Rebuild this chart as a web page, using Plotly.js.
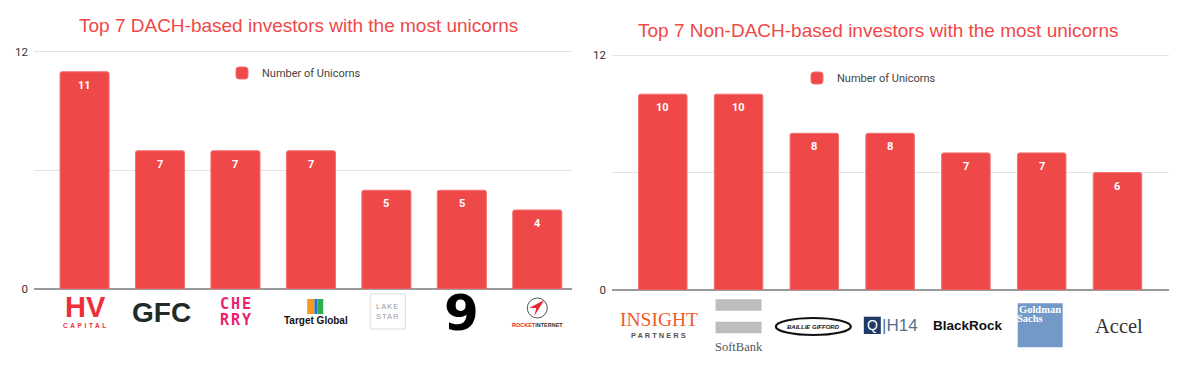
<!DOCTYPE html>
<html>
<head>
<meta charset="utf-8">
<script src="https://cdn.plot.ly/plotly-3.0.1.min.js"></script>
<style>html,body{margin:0;padding:0;background:#fff;}#chart{width:1199px;height:375px;}</style>
</head>
<body>
<div id="chart"></div>
<script>
// ---------- DATA ----------
const dachInvestors = ['HV Capital', 'GFC', 'Cherry Ventures', 'Target Global', 'Lakestar', 'Project A', 'Rocket Internet'];
const dachUnicorns = [11, 7, 7, 7, 5, 5, 4];
const nonDachInvestors = ['Insight Partners', 'SoftBank', 'Baillie Gifford', 'H14', 'BlackRock', 'Goldman Sachs', 'Accel'];
const nonDachUnicorns = [10, 10, 8, 8, 7, 7, 6];
const seriesName = 'Number of Unicorns';
const chartTitles = ['Top 7 DACH-based investors with the most unicorns', 'Top 7 Non-DACH-based investors with the most unicorns'];
const yTickVals = [0, 6, 12];
const yTickText = ['0', '', '12'];

// ---------- STYLE ----------
const W = 1199, H = 375;
const RED = '#ef4848';
const YMAX = 12.1; // a little headroom so the top grid line at 12 is drawn
const leftX = [34 / W, 572 / W], rightX = [612 / W, 1169 / W];
const leftY = [86 / H, (86 + 237 * YMAX / 12) / H], rightY = [85 / H, (85 + 235 * YMAX / 12) / H];
const SANS = 'Liberation Sans, Arial, sans-serif';
const SERIF = 'Liberation Serif, Times New Roman, serif';

// logo marks (text pieces) drawn under each category, offsets in px from axis
const dachLogoText = [
  [{t: 'HV', s: 29, c: '#ee2e3a', f: SANS, b: true, dy: -17.5, dx: 0.5},
   {t: '<span style="letter-spacing:2.6px">CAPITAL</span>', s: 6.5, c: '#ee2e3a', f: SANS, b: true, dy: -36, dx: 1}],
  [{t: 'GFC', s: 28, c: '#1f2b27', f: SANS, b: true, dy: -23.5, dx: 1.6}],
  [{t: '<span style="letter-spacing:2px">CHE</span>', s: 15, c: '#e8236e', f: 'DejaVu Sans Mono', b: true, dy: -15, dx: 1},
   {t: '<span style="letter-spacing:2px">RRY</span>', s: 15, c: '#e8236e', f: 'DejaVu Sans Mono', b: true, dy: -31, dx: 1}],
  [{t: 'Target Global', s: 10, c: '#111', f: SANS, b: true, dy: -31.7, dx: 5.3}],
  [{t: '<span style="letter-spacing:1px">LAKE</span>', s: 7.5, c: '#9a9a9a', f: SANS, b: false, dy: -17.7, dx: 1.6},
   {t: '<span style="letter-spacing:1px">STAR</span>', s: 7.5, c: '#9a9a9a', f: SANS, b: false, dy: -27.7, dx: 1.6}],
  [{t: '9', s: 50, c: '#000', f: 'DejaVu Sans', b: true, dy: -24, dx: -0.5}],
  [{t: '<span style="color:#e8262c">ROCKET</span><span style="color:#333">INTERNET</span>', s: 5.5, c: '#333', f: SANS, b: true, dy: -36, dx: 0}]
];
const nonDachLogoText = [
  [{t: 'INSIGHT', s: 19.5, c: '#f15a2b', f: SERIF, b: false, dy: -29.7, dx: -3.5},
   {t: '<span style="letter-spacing:2px">PARTNERS</span>', s: 7.5, c: '#555', f: SANS, b: true, dy: -45, dx: -3.5}],
  [{t: 'SoftBank', s: 12.5, c: '#555', f: SERIF, b: false, dy: -56.7, dx: 0}],
  [{t: '<i>BAILLIE GIFFORD</i>', s: 6, c: '#111', f: SANS, b: true, dy: -36.5, dx: -1}],
  [{t: 'Q', s: 14, c: '#fff', f: SANS, b: false, dy: -35.3, dx: -17.7},
   {t: '|H14', s: 17, c: '#55708f', f: SANS, b: false, dy: -35.3, dx: 9.5}],
  [{t: 'BlackRock', s: 13.5, c: '#111', f: SANS, b: true, dy: -35, dx: 2}],
  [{t: 'Goldman', s: 10.5, c: '#fff', f: SERIF, b: true, dy: -19.5, dx: -1.5},
   {t: 'Sachs', s: 10.5, c: '#fff', f: SERIF, b: true, dy: -28.5, dx: -11.5}],
  [{t: 'Accel', s: 20.5, c: '#333', f: SERIF, b: false, dy: -36, dx: 1.5}]
];
// logo shapes: [categoryIndex, type, x0, x1, y0, y1, fill, line, lineWidth, path]
const dachLogoShapes = [
  [3, 'rect', -3.7, 3.5, -10, -25, '#f59a1c', null, 0],
  [3, 'rect', 3.5, 6.5, -10, -25, '#2a6fd6', null, 0],
  [3, 'rect', 6.5, 12.3, -10, -25, '#2fae4e', null, 0],
  [4, 'rect', -16.1, 18.9, -5, -40, 'rgba(0,0,0,0)', '#dcdcdc', 1],
  [6, 'circle', -10, 10, -9, -29, 'rgba(0,0,0,0)', '#555', 1],
  [6, 'path', 0, 0, 0, 0, '#e8262c', null, 0, 'M 7 -11 L -8 -19 L -1 -19 L -3 -27 Z']
];
const nonDachLogoShapes = [
  [1, 'rect', -23, 23, -9.3, -20.7, '#bdbdbd', null, 0],
  [1, 'rect', -23, 23, -31.7, -43.3, '#bdbdbd', null, 0],
  [2, 'circle', -38.5, 36.5, -28, -45, 'rgba(0,0,0,0)', '#111', 2.2],
  [3, 'rect', -26.3, -9.3, -26.7, -44, '#1f3a68', null, 0],
  [5, 'rect', -24, 21, -13.3, -57.3, '#7399c6', null, 0]
];

// ---------- BUILD ----------
const traces = [
  {type: 'bar', x: dachInvestors, y: dachUnicorns, name: seriesName, xaxis: 'x', yaxis: 'y',
   width: 0.65, marker: {color: RED, line: {color: '#f27070', width: 1}, cornerradius: 2},
   hoverinfo: 'x+y', legend: 'legend'},
  {type: 'bar', x: nonDachInvestors, y: nonDachUnicorns, name: seriesName, xaxis: 'x2', yaxis: 'y2',
   width: 0.64, marker: {color: RED, line: {color: '#f27070', width: 1}, cornerradius: 2},
   hoverinfo: 'x+y', legend: 'legend2'}
];

const annotations = [];
const shapes = [];

function valueLabels(cats, vals, xref, yref) {
  cats.forEach((c, i) => annotations.push({
    xref: xref, yref: yref, x: c, y: vals[i], yanchor: 'top', yshift: -5, showarrow: false,
    text: '<b>' + vals[i] + '</b>', font: {family: 'Roboto, ' + SANS, size: 11, color: '#fff'}
  }));
}
valueLabels(dachInvestors, dachUnicorns, 'x', 'y');
valueLabels(nonDachInvestors, nonDachUnicorns, 'x2', 'y2');

function logoTexts(spec, xref, axisY) {
  spec.forEach((parts, i) => parts.forEach(p => annotations.push({
    xref: xref, yref: 'paper', x: i, y: axisY, xanchor: 'center', yanchor: 'middle',
    xshift: p.dx, yshift: p.dy, showarrow: false, borderpad: 0,
    text: p.b ? '<b>' + p.t + '</b>' : p.t,
    font: {family: p.f, size: p.s, color: p.c}
  })));
}
function logoShapes(spec, xref, axisY) {
  spec.forEach(s => {
    const sh = {
      type: s[1], xref: xref, yref: 'paper', xsizemode: 'pixel', ysizemode: 'pixel',
      xanchor: s[0], yanchor: axisY, fillcolor: s[6], layer: 'above',
      line: {color: s[7] || 'rgba(0,0,0,0)', width: s[8]}
    };
    if (s[1] === 'path') sh.path = s[9];
    else { sh.x0 = s[2]; sh.x1 = s[3]; sh.y0 = s[4]; sh.y1 = s[5]; }
    shapes.push(sh);
  });
}
logoShapes(dachLogoShapes, 'x', leftY[0]);
logoShapes(nonDachLogoShapes, 'x2', rightY[0]);
logoTexts(dachLogoText, 'x', leftY[0]);
logoTexts(nonDachLogoText, 'x2', rightY[0]);

// titles
annotations.push({xref: 'paper', yref: 'paper', x: 298.5 / W, y: 1 - 25.5 / H, xanchor: 'center', yanchor: 'middle',
  showarrow: false, text: chartTitles[0], font: {family: SANS, size: 19, color: '#f04848'}});
annotations.push({xref: 'paper', yref: 'paper', x: 877.5 / W, y: 1 - 30.5 / H, xanchor: 'center', yanchor: 'middle',
  showarrow: false, text: chartTitles[1], font: {family: SANS, size: 19, color: '#f04848'}});

const yaxisBase = {
  range: [0, YMAX], tickvals: yTickVals, ticktext: yTickText, showgrid: true, gridcolor: '#e3e3e3', gridwidth: 1,
  zeroline: true, zerolinecolor: '#9a9a9a', zerolinewidth: 2, showline: false, ticks: '',
  tickfont: {family: 'Roboto, ' + SANS, size: 11.5, color: '#333'}, ticklabelstandoff: 5, fixedrange: true
};
const xaxisBase = {type: 'category', showticklabels: false, ticks: '', showline: false, showgrid: false, zeroline: false, fixedrange: true};

const layout = {
  width: W, height: H, autosize: false,
  margin: {l: 0, r: 0, t: 0, b: 0, pad: 0},
  paper_bgcolor: '#fff', plot_bgcolor: 'rgba(0,0,0,0)',
  showlegend: true, bargap: 0.35,
  xaxis: Object.assign({}, xaxisBase, {domain: leftX, range: [-0.67, 6.46], anchor: 'y'}),
  yaxis: Object.assign({}, yaxisBase, {domain: leftY, anchor: 'x'}),
  xaxis2: Object.assign({}, xaxisBase, {domain: rightX, range: [-0.67, 6.68], anchor: 'y2'}),
  yaxis2: Object.assign({}, yaxisBase, {domain: rightY, anchor: 'x2'}),
  legend: {x: 222 / W, xanchor: 'left', y: 1 - 73 / H, yanchor: 'middle', bgcolor: 'rgba(0,0,0,0)',
    font: {family: 'Roboto, ' + SANS, size: 11, color: '#444'}},
  legend2: {x: 797 / W, xanchor: 'left', y: 1 - 78 / H, yanchor: 'middle', bgcolor: 'rgba(0,0,0,0)',
    font: {family: 'Roboto, ' + SANS, size: 11, color: '#444'}},
  annotations: annotations,
  shapes: shapes
};

Plotly.newPlot('chart', traces, layout, {displayModeBar: false, staticPlot: true});
</script>
</body>
</html>
